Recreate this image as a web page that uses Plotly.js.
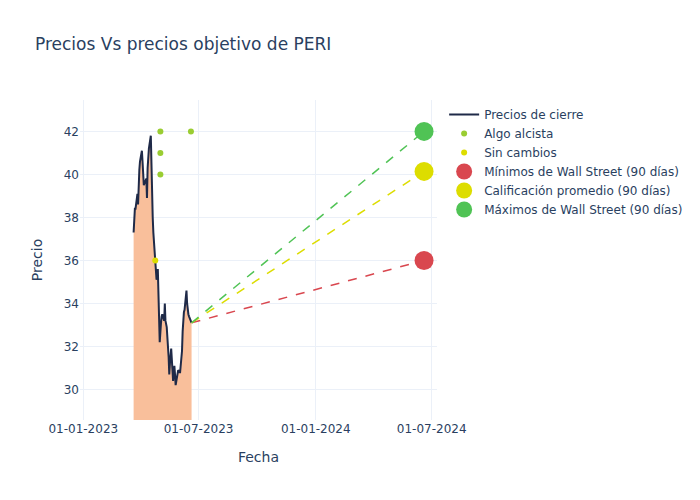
<!DOCTYPE html>
<html>
<head>
<meta charset="utf-8">
<script src="https://cdn.plot.ly/plotly-3.0.1.min.js"></script>
<style>html,body{margin:0;padding:0;background:#fff;}</style>
</head>
<body>
<div id="chart" style="width:700px;height:500px;"></div>
<script>
const priceDates = [
  "2023-03-21","2023-03-22","2023-03-23","2023-03-24","2023-03-27","2023-03-28","2023-03-29","2023-03-30","2023-03-31",
  "2023-04-03","2023-04-04","2023-04-05","2023-04-06","2023-04-10","2023-04-11","2023-04-12","2023-04-13","2023-04-14",
  "2023-04-17","2023-04-18","2023-04-19","2023-04-20","2023-04-21","2023-04-24","2023-04-25","2023-04-26","2023-04-27","2023-04-28",
  "2023-05-01","2023-05-02","2023-05-03","2023-05-04","2023-05-05","2023-05-08","2023-05-09","2023-05-10","2023-05-11","2023-05-12",
  "2023-05-15","2023-05-16","2023-05-17","2023-05-18","2023-05-19","2023-05-22","2023-05-23","2023-05-24","2023-05-25","2023-05-26",
  "2023-05-30","2023-05-31","2023-06-01","2023-06-02","2023-06-05","2023-06-06","2023-06-07","2023-06-08","2023-06-09",
  "2023-06-12","2023-06-13","2023-06-14","2023-06-15","2023-06-16","2023-06-20"
];
const closePrices = [
  37.3, 38.0, 38.4, 38.4, 39.1, 38.6, 39.8, 40.2, 40.6,
  41.1, 40.6, 39.8, 39.5, 39.8, 38.9, 40.3, 40.8, 41.2,
  41.8, 40.5, 38.3, 38.0, 37.3, 35.9, 35.3, 35.1, 35.3, 35.6,
  32.2, 33.0, 33.1, 33.4, 33.5, 33.2, 34.0, 33.2, 33.0, 32.9,
  31.5, 30.7, 31.2, 31.6, 31.9, 30.4, 30.9, 31.1, 30.7, 30.2,
  30.9, 30.8, 30.8, 30.8, 31.8, 32.7, 33.3, 33.6, 33.7,
  34.6, 34.0, 33.6, 33.5, 33.4, 33.1
];
const bullishDates = ["2023-05-02","2023-05-02","2023-05-02","2023-06-19"];
const bullishTargets = [42, 41, 40, 42];
const neutralDates = ["2023-04-24"];
const neutralTargets = [36];
const lastDate = "2023-06-20";
const lastPrice = 33.1;
const targetDate = "2024-06-19";
const targetLow = 36.0;
const targetAvg = 40.14;
const targetHigh = 42.0;

const traces = [
  {x: priceDates, y: closePrices, type: 'scatter', mode: 'none', fill: 'tozeroy',
   fillcolor: '#F9BF9B', showlegend: false, hoverinfo: 'skip'},
  {x: priceDates, y: closePrices, type: 'scatter', mode: 'lines', name: 'Precios de cierre',
   line: {color: '#1f2a48', width: 2}},
  {x: bullishDates, y: bullishTargets, type: 'scatter', mode: 'markers', name: 'Algo alcista',
   marker: {color: '#9ACD32', size: 6}},
  {x: neutralDates, y: neutralTargets, type: 'scatter', mode: 'markers', name: 'Sin cambios',
   marker: {color: '#DDDD00', size: 6}},
  {x: [lastDate, targetDate], y: [lastPrice, targetLow], type: 'scatter', mode: 'lines',
   line: {color: '#D9474F', dash: 'dash', width: 1.5}, showlegend: false},
  {x: [lastDate, targetDate], y: [lastPrice, targetAvg], type: 'scatter', mode: 'lines',
   line: {color: '#DDDD00', dash: 'dash', width: 1.5}, showlegend: false},
  {x: [lastDate, targetDate], y: [lastPrice, targetHigh], type: 'scatter', mode: 'lines',
   line: {color: '#50C355', dash: 'dash', width: 1.5}, showlegend: false},
  {x: [targetDate], y: [targetLow], type: 'scatter', mode: 'markers', name: 'Mínimos de Wall Street (90 días)',
   marker: {color: '#D9474F', size: 19}},
  {x: [targetDate], y: [targetAvg], type: 'scatter', mode: 'markers', name: 'Calificación promedio (90 días)',
   marker: {color: '#DDDD00', size: 19}},
  {x: [targetDate], y: [targetHigh], type: 'scatter', mode: 'markers', name: 'Máximos de Wall Street (90 días)',
   marker: {color: '#50C355', size: 19}}
];

const layout = {
  width: 700, height: 500,
  template: 'plotly_white',
  paper_bgcolor: '#fff', plot_bgcolor: '#fff',
  font: {family: 'DejaVu Sans, sans-serif', color: '#2a3f5f', size: 12},
  title: {text: 'Precios Vs precios objetivo de PERI', x: 0.05, font: {size: 17}},
  margin: {l: 80, r: 263, t: 100, b: 80},
  xaxis: {
    title: {text: 'Fecha', standoff: 17},
    type: 'date',
    range: ['2022-12-26 20:00', '2024-07-09 08:00'],
    tickvals: ['2023-01-01','2023-07-01','2024-01-01','2024-07-01'],
    ticktext: ['01-01-2023','01-07-2023','01-01-2024','01-07-2024'],
    gridcolor: '#EBF0F8', zeroline: false, showline: false
  },
  yaxis: {
    title: {text: 'Precio'},
    range: [28.58, 43.46],
    tickvals: [30, 32, 34, 36, 38, 40, 42],
    gridcolor: '#EBF0F8', zeroline: false, showline: false
  },
  legend: {x: 1.02, y: 1, font: {size: 12}}
};

Plotly.newPlot('chart', traces, layout, {displayModeBar: false});
</script>
</body>
</html>
